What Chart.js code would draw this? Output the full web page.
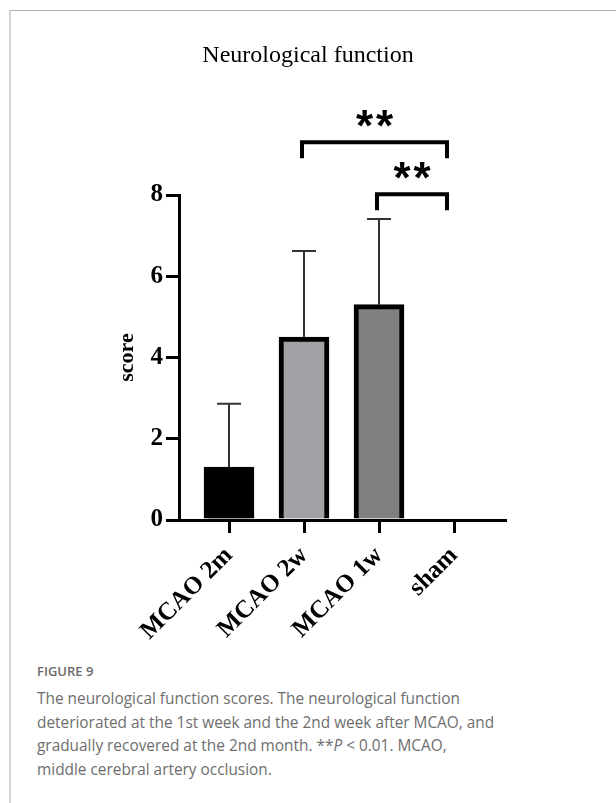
<!DOCTYPE html>
<html>
<head>
<meta charset="utf-8">
<script src="https://cdn.jsdelivr.net/npm/chart.js@4.4.1/dist/chart.umd.min.js"></script>
<style>
  html, body { margin: 0; padding: 0; background: #fff; }
  body { width: 616px; height: 803px; position: relative; overflow: hidden; }
  #frame { position: absolute; left: 9px; top: 10px; width: 700px; height: 900px;
           border-left: 2px solid #d2d2d2; border-top: 1px solid #b4b4b4; }
  #wrap { position: absolute; left: 0; top: 0; width: 616px; height: 640px; }
  #fig { position: absolute; left: 37px; top: 662px; font: 600 13px "Open Sans", sans-serif; color: #6a6a6a; }
  #cap { position: absolute; left: 37px; top: 687px; font: 15.4px "Open Sans", sans-serif; color: #6e6e6e;
         line-height: 23.5px; white-space: nowrap; }
</style>
</head>
<body>
<div id="frame"></div>
<div id="wrap"><canvas id="chart" width="616" height="640"></canvas></div>
<div id="fig">FIGURE 9</div>
<div id="cap">The neurological function scores. The neurological function<br>deteriorated at the 1st week and the 2nd week after MCAO, and<br>gradually recovered at the 2nd month. **<i>P</i> &lt; 0.01. MCAO,<br>middle cerebral artery occlusion.</div>
<script>
const categories = ['MCAO 2m', 'MCAO 2w', 'MCAO 1w', 'sham'];
const scores = [1.3, 4.5, 5.3, 0];
const errors = [1.56, 2.12, 2.11, 0];
const barColors = ['#000000', '#a2a1a6', '#808080', '#ffffff'];
const yTicks = [0, 2, 4, 6, 8];
const brackets = [
  { from: 1, to: 3, y: 9.3, label: '**' },
  { from: 2, to: 3, y: 8.02, label: '**' }
];

const serif = '"Liberation Serif", "Times New Roman", serif';

const errorBars = {
  id: 'errorBars',
  afterDatasetsDraw(chart) {
    const { ctx, scales: { x, y } } = chart;
    ctx.save();
    ctx.strokeStyle = '#333333';
    ctx.lineWidth = 2;
    scores.forEach((v, i) => {
      if (!errors[i]) return;
      const px = x.getPixelForValue(i);
      const y0 = y.getPixelForValue(v);
      const y1 = y.getPixelForValue(v + errors[i]);
      ctx.beginPath();
      ctx.moveTo(px, y0);
      ctx.lineTo(px, y1);
      ctx.moveTo(px - 12, y1);
      ctx.lineTo(px + 12, y1);
      ctx.stroke();
    });
    ctx.restore();
  }
};

const sigBrackets = {
  id: 'sigBrackets',
  afterDraw(chart) {
    const { ctx, scales: { x, y } } = chart;
    const starSize = 44;
    ctx.save();
    ctx.strokeStyle = '#000';
    ctx.fillStyle = '#000';
    ctx.lineWidth = 4;
    ctx.lineJoin = 'miter';
    ctx.lineCap = 'butt';
    brackets.forEach(b => {
      const x1 = x.getPixelForValue(b.from) - 2;
      const x2 = x.getPixelForValue(b.to) - 7;
      const py = y.getPixelForValue(b.y);
      ctx.beginPath();
      ctx.moveTo(x1, py + 16);
      ctx.lineTo(x1, py);
      ctx.lineTo(x2, py);
      ctx.lineTo(x2, py + 16);
      ctx.stroke();
      // asterisks above the bracket
      ctx.font = 'bold ' + starSize + 'px "Liberation Sans", Arial, sans-serif';
      ctx.textAlign = 'center';
      ctx.textBaseline = 'alphabetic';
      const xc = (x1 + x2) / 2;
      const n = b.label.length;
      for (let k = 0; k < n; k++) {
        ctx.fillText('*', xc + (k - (n - 1) / 2) * 20, py - 22 + 0.47 * starSize);
      }
    });
    ctx.restore();
  }
};

new Chart(document.getElementById('chart'), {
  type: 'bar',
  data: {
    datasets: [{
      data: scores.map((v, i) => ({ x: i, y: v })),
      backgroundColor: barColors,
      borderColor: '#000',
      borderWidth: 5,
      barThickness: 50
    }]
  },
  options: {
    responsive: false,
    animation: false,
    events: [],
    layout: { padding: { left: 111, right: 111, top: 0, bottom: 0 } },
    plugins: {
      legend: { display: false },
      tooltip: { enabled: false },
      title: {
        display: true,
        text: 'Neurological function',
        color: '#000',
        font: { family: serif, size: 24, weight: 'normal' },
        padding: { top: 41, bottom: 125.2 }
      }
    },
    scales: {
      x: {
        type: 'linear',
        offset: false,
        min: -0.6667,
        max: 3.68,
        afterBuildTicks: s => { s.ticks = categories.map((c, i) => ({ value: i })); },
        afterFit: s => { s.height = 120; },
        border: { display: true, color: '#000', width: 3 },
        grid: { offset: false, drawOnChartArea: false, drawTicks: true, tickLength: 13, color: '#000', lineWidth: 3 },
        ticks: {
          color: '#000',
          font: { family: serif, size: 25, weight: 'bold' },
          minRotation: 45,
          maxRotation: 45,
          padding: 8,
          autoSkip: false,
          callback: v => categories[v]
        }
      },
      y: {
        min: 0,
        max: 8,
        afterBuildTicks: s => { s.ticks = yTicks.map(v => ({ value: v })); },
        afterFit: s => { s.width = 68; },
        border: { display: true, color: '#000', width: 3 },
        grid: { drawOnChartArea: false, drawTicks: true, tickLength: 13, color: '#000', lineWidth: 3 },
        ticks: {
          color: '#000',
          font: { family: serif, size: 25, weight: 'bold' },
          padding: 3
        },
        title: {
          display: true,
          text: 'score',
          color: '#000',
          font: { family: serif, size: 22, weight: 'bold' },
          padding: { top: 3, bottom: 0 }
        }
      }
    }
  },
  plugins: [errorBars, sigBrackets]
});
</script>
</body>
</html>
